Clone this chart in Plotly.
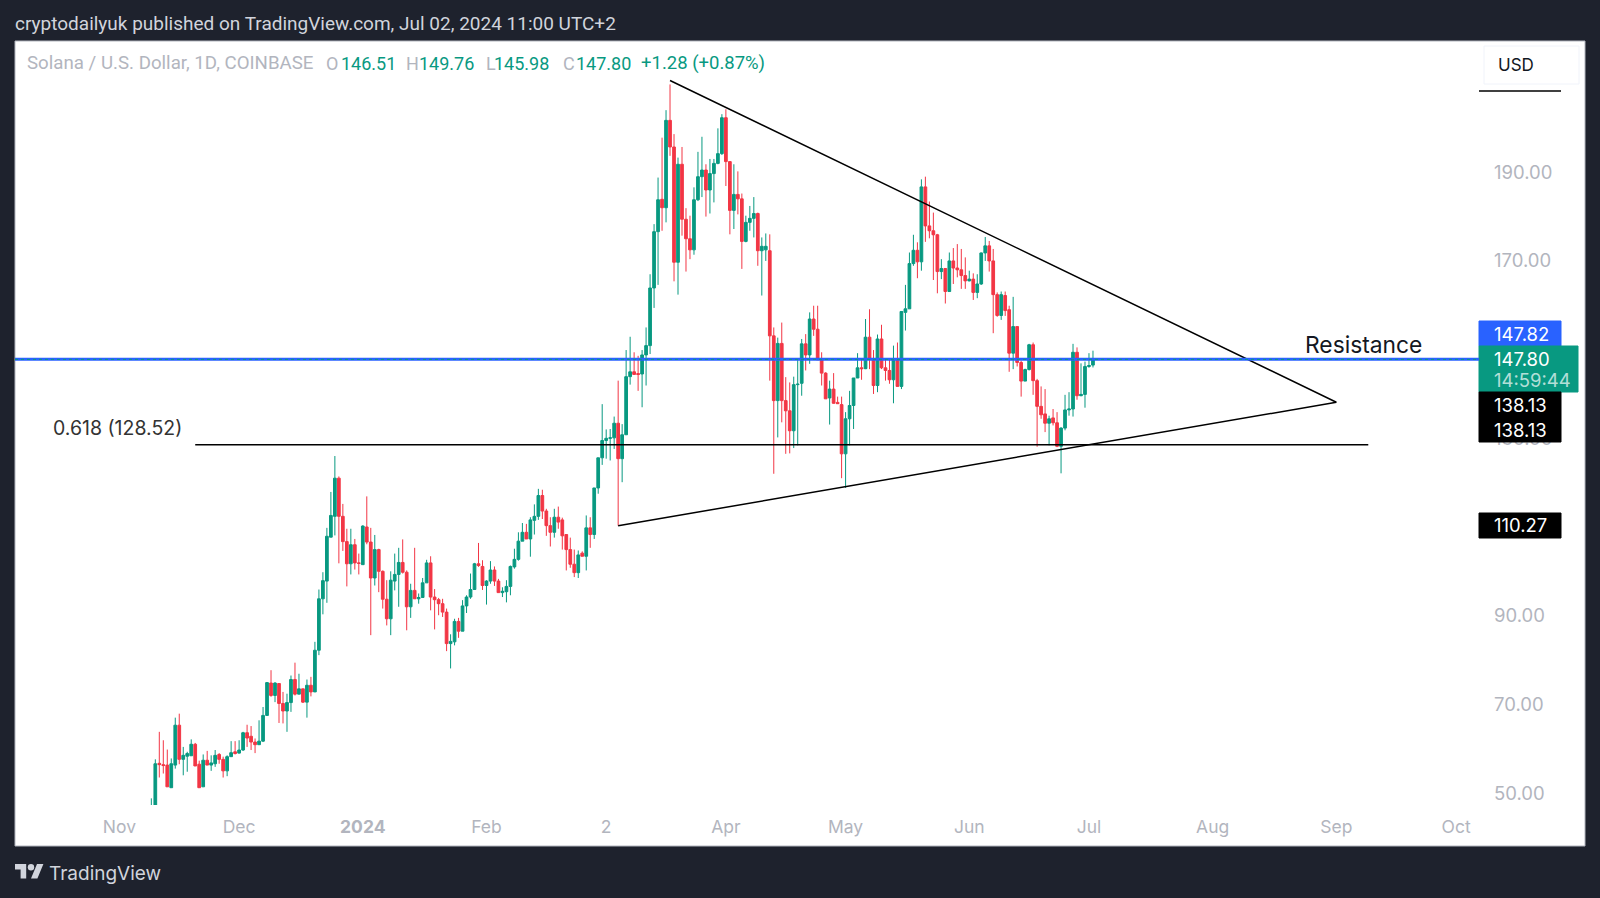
import pandas as pd
import plotly.graph_objects as go

first_candle = '2023-11-09'

opens = [
    42, 45, 56.7, 56.4, 56.3, 51.2, 56.3, 65.3, 57.6, 58.3,
    58.4, 61.0, 56.5, 51.4, 57.4, 56.3, 56.6, 58.7, 57.6, 55.0,
    58.2, 59.3, 59.0, 59.7, 63.6, 62.8, 61.5, 60.9, 61.7, 67.5,
    74.8, 72.0, 74.7, 70.2, 68.5, 70.4, 75.6, 72.3, 73.5, 70.5,
    74.3, 72.8, 82.2, 93.8, 97.8, 107.7, 112.4, 121.0, 112.4, 106.7,
    101.7, 106, 101.9, 101.5, 110, 106.6, 98.5, 104.9, 100, 93.7,
    89.3, 97.8, 99.3, 102, 99.8, 92, 95.7, 93.8, 94.1, 97.4,
    101.9, 94.2, 93.6, 92.7, 90.8, 83.7, 84.1, 88.7, 86.5, 92.2,
    94.2, 95.9, 101.7, 101.1, 96.8, 97.8, 100.3, 97.8, 95.2, 95.4,
    96.6, 101, 102.7, 106.8, 108.8, 107.3, 111.5, 112.4, 117.1, 113.6,
    110.3, 108.8, 112.2, 111.6, 108.3, 104.9, 101.6, 99.7, 104.1, 103.4,
    109.8, 108.3, 118.8, 125.6, 129.5, 130, 130.1, 133.4, 125.4, 130.8,
    143.9, 145, 144.6, 144.5, 148.8, 150.9, 163.9, 176.6, 183.9, 182,
    201.7, 195.7, 169.7, 191.8, 179.4, 175, 172.5, 183.8, 189, 190.5,
    186, 189.7, 192, 194.2, 202.3, 192.4, 181.4, 185, 184, 174.4,
    178.7, 179.6, 180.7, 172.3, 172.5, 172.3, 153.1, 138.5, 151.4, 138.5,
    136.2, 131.7, 142.1, 142.4, 151.3, 148.8, 156.9, 154.6, 147.7, 144.7,
    139.1, 141.1, 138.1, 137.6, 126.5, 134.4, 137.4, 143.6, 145.9, 145.7,
    152.8, 147.9, 141.9, 152.4, 145.9, 145.3, 143.2, 147.7, 141.7, 158.4,
    159.2, 169.4, 172.4, 169.8, 186.7, 177.9, 176.8, 175.9, 167.6, 168.3,
    163.1, 170, 168.4, 168, 166.7, 165.5, 165.9, 162.9, 164.8, 171.8,
    173.4, 170, 162.4, 157.7, 162.2, 159, 149.2, 155.2, 147.1, 142.9,
    145.5, 151.1, 143, 137.2, 135.5, 133.4, 134.6, 133.5, 128.2, 132.3,
    136.4, 136.6, 149.4, 139.6, 139.9, 146.2, 146.51,
]
highs = [
    48.8, 57.6, 63.8, 61.9, 59.8, 57.8, 67.0, 67.9, 60.4, 59.3,
    62.1, 61.3, 57.3, 58.7, 59.5, 58.5, 59.7, 59.0, 58.2, 58.5,
    61.7, 61.7, 61.9, 63.8, 65.4, 65.1, 62.3, 66.4, 69.4, 75.0,
    77.7, 75, 74.7, 72.8, 72.4, 76.5, 79.4, 76.9, 73.5, 75.6,
    76.2, 84.1, 95.9, 99.8, 109.8, 117.9, 126, 121.4, 115.2, 109.6,
    109.6, 107.3, 104, 110.4, 116.9, 109.8, 108.2, 105.1, 100.2, 98,
    100, 104, 105.3, 107.2, 100.2, 97.2, 105.3, 95, 98.5, 102.6,
    103.4, 96, 94, 93.8, 91.6, 85.8, 89.3, 89.5, 93.5, 94.6,
    99.5, 101.9, 106.4, 102.5, 98, 102.3, 101.1, 98.3, 96.4, 98,
    101.3, 105.1, 108.8, 110.9, 110.7, 112.2, 115.1, 118.6, 118.4, 114.1,
    112.2, 114.1, 114.6, 112.1, 108.3, 107.6, 104.9, 104.7, 104.5, 112.6,
    112.2, 118.8, 125.6, 137.7, 132, 132.1, 134.9, 143, 133.2, 149.9,
    152.9, 149.4, 148.6, 149.9, 155, 167, 178.3, 188.8, 197.8, 204,
    209.8, 198.6, 193.3, 195.7, 181.9, 180.2, 186.6, 194.6, 198, 191.8,
    193, 193, 199.9, 203.1, 204.2, 192.4, 191.8, 190.2, 185.2, 180.2,
    182.4, 184.4, 180.9, 175.3, 176.2, 176, 155, 152.7, 156.1, 143.8,
    142.6, 143.9, 147.7, 152.4, 153.5, 158.4, 159.9, 159.9, 149.4, 144.9,
    143, 144.7, 139.4, 139.4, 135.9, 140.7, 143.6, 149.2, 147.9, 156.9,
    159.1, 149.9, 153.4, 155.6, 147.9, 147.9, 150.9, 151.6, 158.6, 164.6,
    171.9, 175.9, 174.2, 188.4, 189, 183.4, 180.9, 176.1, 170.4, 168.4,
    171.9, 172.9, 173.8, 172.7, 170.8, 167.8, 167.2, 167, 171.9, 175.4,
    174.5, 172.7, 162.9, 163.1, 163.1, 159.9, 161.9, 155.2, 147.5, 145.7,
    151.3, 151.6, 143.4, 141.7, 141.1, 135.1, 136.6, 135.9, 132.5, 139.8,
    140.4, 151.3, 150.5, 146.9, 147.3, 149.2, 149.76,
]
lows = [
    41, 44, 53.5, 54.4, 51.4, 51.2, 55.5, 56.5, 54.0, 54.8,
    58.4, 56.1, 51.2, 51.4, 56.3, 55, 55.9, 56.6, 53.5, 53.8,
    58.2, 58.7, 58.9, 59.5, 60.4, 59.7, 59.0, 60.9, 61.5, 67.5,
    71.7, 70.5, 65.8, 65.7, 63.8, 68.3, 72.0, 72.3, 70.3, 67.0,
    71.8, 72.8, 81.1, 90.3, 92.9, 107.7, 108.1, 101.8, 104.6, 96.6,
    99.3, 100.4, 99.3, 101.5, 106.1, 85.6, 96.8, 95.3, 91.6, 87.8,
    85.6, 95.7, 92, 99.5, 86.7, 89.5, 93.8, 92.7, 94.1, 97.4,
    91.2, 86.9, 90.1, 89.7, 82, 78.1, 83.3, 85, 86.5, 90.6,
    93.8, 95.9, 101, 95.8, 92.5, 97.2, 96.7, 95.2, 94.2, 93,
    94.6, 100.6, 102.4, 106.8, 107.3, 103.3, 108.3, 111.6, 111.8, 108,
    105.6, 107.6, 109.6, 104.9, 100.2, 100.8, 98.7, 98.5, 103.4, 100.2,
    105.3, 107.3, 117.5, 124, 125.4, 125, 127.6, 110.3, 120.1, 130.8,
    142.1, 144.4, 140.7, 137, 141.9, 149, 159.4, 164.6, 176.8, 178.7,
    193.7, 165.4, 162.4, 175.7, 167.6, 170.4, 171.4, 183.5, 184.4, 180,
    180.7, 183.2, 191.8, 193.9, 186.9, 176, 177.2, 180.5, 168.2, 174.2,
    176.8, 175.3, 168.9, 162.2, 170, 143, 122, 130.2, 133.6, 126.5,
    126.6, 127.8, 128.4, 139.6, 145.3, 146.8, 153.1, 147.7, 141.9, 138.9,
    133.1, 137.8, 137.8, 121, 118.8, 128.4, 132.1, 143.6, 143.2, 145.6,
    145.6, 140, 140.4, 145.6, 143, 142.3, 137.9, 141.7, 141.1, 154.3,
    159.2, 168.9, 166.1, 167.8, 174.3, 175.1, 165.7, 162.7, 165.9, 160.4,
    163.1, 164.8, 166.3, 163.7, 163.7, 165.4, 161.2, 161.6, 164.6, 170,
    167.6, 153.7, 157.4, 156.7, 157.6, 145, 145.6, 146.2, 139.4, 142.9,
    145.3, 139.8, 128.1, 134.4, 131.4, 128.4, 132.9, 128, 122.1, 131.8,
    135.1, 134.9, 138.7, 139.5, 136.9, 145.9, 145.98,
]
closes = [
    45, 56.6, 56.4, 56.2, 51.4, 56.6, 65.3, 57.6, 58.5, 58.9,
    61.0, 56.1, 51.2, 57.4, 56.3, 56.8, 58.5, 57.6, 55.0, 58.2,
    59.1, 58.9, 59.7, 63.6, 62.4, 61.5, 60.9, 61.7, 67.5, 74.9,
    72.0, 74.8, 70.2, 68.5, 70.4, 75.6, 72.3, 73.5, 70.5, 74.3,
    72.8, 82.2, 93.8, 97.9, 107.9, 112.6, 121.0, 112.4, 106.7, 101.7,
    106, 101.9, 101.8, 110.2, 106.6, 98.5, 104.9, 100, 93.7, 89.3,
    98, 99.3, 102, 99.8, 92, 95.7, 93.8, 94.1, 97.4, 101.9,
    94.2, 93.6, 92.7, 90.8, 83.7, 84.2, 88.7, 86.5, 92.2, 94.2,
    95.9, 101.7, 101.3, 96.8, 97.8, 100.3, 97.8, 95.2, 95.5, 96.6,
    101.1, 102.7, 106.8, 108.8, 107.3, 111.6, 112.4, 117.1, 113.6, 110.3,
    108.8, 112.2, 111.1, 108, 104.9, 101.6, 99.7, 103.7, 103.4, 109.8,
    108.3, 118.8, 125.6, 129.5, 130, 130.1, 133.4, 125.4, 130.8, 143.9,
    145, 144.4, 144.4, 148.8, 150.9, 163.9, 176.6, 183.8, 182, 201.7,
    195.7, 169.7, 191.8, 179.4, 175, 172.5, 183.8, 189, 190.5, 186,
    189.7, 192, 194.2, 202.3, 192.4, 181.4, 185, 184, 174.4, 178.7,
    179.6, 180.7, 172.3, 173.3, 173.3, 153.1, 138.5, 151.4, 138.5, 136.2,
    131.7, 142.1, 142.2, 151.3, 148.8, 156.9, 154.6, 147.7, 144.7, 138.9,
    141.1, 137.9, 137.8, 126.5, 134.4, 137.4, 143.6, 145.9, 145.7, 152.8,
    147.9, 141.9, 152.4, 145.9, 145.3, 143.2, 147.7, 141.7, 158.6, 159.2,
    169.4, 172.4, 169.8, 186.7, 177.9, 176.8, 175.9, 167.6, 168.3, 163.1,
    170, 168.4, 168, 166.7, 165.5, 165.9, 162.9, 164.8, 171.8, 173.4,
    170, 162.4, 157.7, 162.4, 158.8, 149.2, 155.2, 147.1, 142.9, 145.5,
    151.1, 143, 137.2, 135.3, 133.4, 134.4, 133.5, 128.2, 132.3, 136.4,
    136.6, 149.4, 139.6, 139.9, 146.2, 146.4, 147.80,
]

tick_dates = ['2023-11-01', '2023-12-01', '2024-01-01', '2024-02-01', '2024-03-02', '2024-04-01',
              '2024-05-01', '2024-06-01', '2024-07-01', '2024-08-01', '2024-09-01', '2024-10-01']
tick_text = ['Nov', 'Dec', '<b>2024</b>', 'Feb', '2', 'Apr', 'May', 'Jun', 'Jul', 'Aug', 'Sep', 'Oct']
price_ticks = [50, 70, 90, 130, 170, 190]

triangle_dates = ['2024-03-18', '2024-09-01', '2024-03-05']
triangle_prices = [210.7, 138.13, 110.27]
fib_dates = ['2023-11-20', '2024-09-09']
fib_level = 128.52
resistance_level = 147.82
last_price = 147.80

GREEN = '#089981'
RED = '#f23645'
GREY = '#b2b5be'
DARK = '#1e222d'
FONT = 'Inter'

# pixel edges of the plot area inside the 1600x898 page
LEFT, RIGHT, TOP, BOTTOM = 15, 1479, 41, 805


def px(x):
    return (x - LEFT) / (RIGHT - LEFT)


def py(y):
    return (BOTTOM - y) / (BOTTOM - TOP)


def box(x0, y0, x1, y1, color, line_color=None):
    return dict(type='rect', xref='paper', yref='paper', x0=px(x0), x1=px(x1), y0=py(y0), y1=py(y1),
                fillcolor=color, line=dict(color=line_color or color, width=1))


def label(text, x, y, color, size=18.5, anchor='left', family=FONT):
    return dict(text=text, xref='paper', yref='paper', x=px(x), y=py(y), xanchor=anchor, yanchor='middle',
                showarrow=False, align='left', font=dict(color=color, size=size, family=family))


dates = pd.date_range(first_candle, periods=len(opens), freq='D')

fig = go.Figure()
fig.add_trace(go.Candlestick(
    x=dates, open=opens, high=highs, low=lows, close=closes,
    increasing=dict(line=dict(color=GREEN, width=1), fillcolor=GREEN),
    decreasing=dict(line=dict(color=RED, width=1), fillcolor=RED),
    whiskerwidth=0, hoverinfo='skip', showlegend=False,
))
fig.add_trace(go.Scatter(x=triangle_dates, y=triangle_prices, mode='lines', showlegend=False,
                         line=dict(color='black', width=1.5), hoverinfo='skip'))
fig.add_trace(go.Scatter(x=fib_dates, y=[fib_level, fib_level], mode='lines', showlegend=False,
                         line=dict(color='black', width=1.5), hoverinfo='skip'))

shapes = [
    box(15, 41, 1585, 846, 'white', GREY),
    box(1484, 46, 1579, 84, 'white', '#f0f3fa'),
]
top_shapes = [
    box(1479, 321, 1561, 346, '#2962ff'),
    box(1479, 346, 1578, 392, GREEN),
    box(1479, 392, 1561, 417, 'black'),
    box(1479, 417, 1561, 442, 'black'),
    box(1479, 513, 1561, 538, 'black'),
    dict(type='line', xref='paper', yref='paper', x0=px(1479), x1=px(1561), y0=py(91), y1=py(91),
         line=dict(color='black', width=1.5)),
]
for s in shapes:
    s['layer'] = 'below'
for s in top_shapes:
    s['layer'] = 'above'

# TradingView logo, drawn from the outline of the mark


def logo_x(v):
    return px(15 + 0.8 * v)


def logo_y(v):
    return py(864 + 0.8 * (v - 4))


logo_t = [(14, 22), (7, 22), (7, 11), (0, 11), (0, 4), (14, 4)]
logo_slash = [(28, 22), (20, 22), (27.5, 4), (35.5, 4)]
for outline in (logo_t, logo_slash):
    path = 'M' + ' L'.join(f'{logo_x(a):.5f} {logo_y(b):.5f}' for a, b in outline) + ' Z'
    top_shapes.append(dict(type='path', xref='paper', yref='paper', path=path, fillcolor='#d1d4dc',
                           line=dict(width=0), layer='above'))
top_shapes.append(dict(type='circle', xref='paper', yref='paper', x0=logo_x(16), x1=logo_x(24), y0=logo_y(4),
                       y1=logo_y(12), fillcolor='#d1d4dc', line=dict(width=0), layer='above'))

fig.update_layout(shapes=shapes + top_shapes)
fig.add_hline(y=resistance_level, line_color='#2962ff', line_width=3)
fig.add_hline(y=last_price, line_color=GREEN, line_width=1, line_dash='dot')

legend_parts = [
    ('O', 324, GREY, 18), ('146.51', 339, GREEN, 18),
    ('H', 404, GREY, 18), ('149.76', 417, GREEN, 18),
    ('L', 484, GREY, 18), ('145.98', 492, GREEN, 18),
    ('C', 561, GREY, 18), ('147.80', 574, GREEN, 18),
    ('+1.28 (+0.87%)', 639, GREEN, 18.5),
    ('Solana / U.S. Dollar, 1D, COINBASE', 25, GREY, 18.7),
]
annotations = [label('cryptodailyuk published on TradingView.com, Jul 02, 2024 11:00 UTC+2', 13, 23.5, '#d1d4dc', 19,
                     family='Roboto')]
annotations += [label(t, x, 63.5, c, s, family='Roboto') for t, x, c, s in legend_parts]
annotations += [
    label('USD', 1496, 65, '#131722', 17),
    label('Resistance', 1303, 344, '#131722', 22.8),
    label('0.618 (128.52)', 51, 427.5, '#333333', 19.5),
    label('147.82', 1492, 334, 'white'),
    label('147.80', 1492, 358.5, 'white'),
    label('14:59:44', 1492, 380, 'rgba(255,255,255,0.7)'),
    label('138.13', 1492, 405, 'white'),
    label('138.13', 1492, 430, 'white'),
    label('110.27', 1492, 525, 'white'),
    label('TradingView', 47, 873, '#d1d4dc', 19),
]

fig.update_layout(
    width=1600,
    height=898,
    paper_bgcolor=DARK,
    plot_bgcolor='white',
    margin=dict(l=LEFT, r=1600 - RIGHT, t=TOP, b=898 - BOTTOM),
    boxgap=0.15,
    boxgroupgap=0.2,
    annotations=annotations,
    xaxis=dict(
        range=['2023-10-05 20:00', '2024-10-06 18:00'],
        rangeslider=dict(visible=False),
        tickvals=tick_dates,
        ticktext=tick_text,
        tickfont=dict(color=GREY, size=17.5, family=FONT),
        showgrid=False, zeroline=False, showline=False, ticks='',
        ticklabelstandoff=9,
    ),
    yaxis=dict(
        side='right',
        range=[47.3, 219.6],
        tickvals=price_ticks,
        tickformat='.2f',
        tickfont=dict(color=GREY, size=18.5, family=FONT),
        showgrid=False, zeroline=False, showline=False, ticks='',
        ticklabelstandoff=14,
    ),
)

fig.write_html("out.html", config={'displayModeBar': False}, post_script="document.body.style.margin='0';")
